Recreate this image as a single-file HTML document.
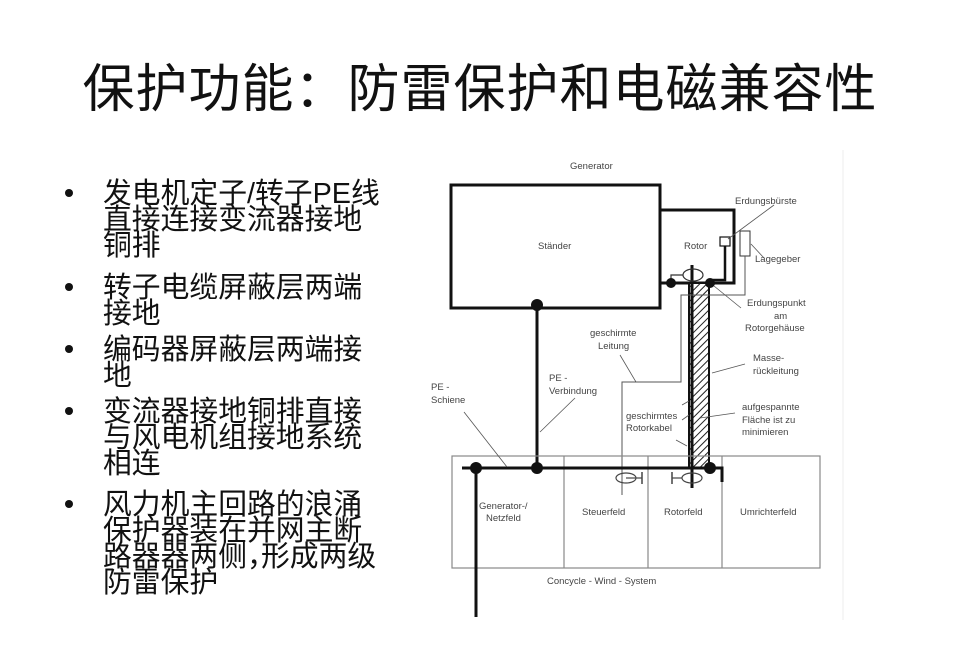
<!DOCTYPE html>
<html><head><meta charset="utf-8"><style>
body{margin:0;width:960px;height:668px;background:#fff;position:relative;overflow:hidden;font-family:"Liberation Sans","Noto Sans CJK SC",sans-serif;}
.t{position:absolute;left:0;top:58px;width:960px;text-align:center;font-size:52px;line-height:64px;color:#111;letter-spacing:1px;}
.b{position:absolute;left:103px;font-size:28.8px;line-height:26px;color:#111;white-space:nowrap;}
.d{position:absolute;left:65px;width:8px;height:8px;border-radius:50%;background:#111;}
.c{display:inline-block;width:14px;overflow:hidden;vertical-align:top;}
svg{position:absolute;left:0;top:0}
svg text{font-family:"Liberation Sans",sans-serif;font-size:9.5px;fill:#444}
</style></head><body>
<div class="t">保护功能：防雷保护和电磁兼容性</div>
<div class="d" style="top:189px"></div>
<div class="b" style="top:181px">发电机定子/转子PE线<br>直接连接变流器接地<br>铜排</div>
<div class="d" style="top:283px"></div>
<div class="b" style="top:275px">转子电缆屏蔽层两端<br>接地</div>
<div class="d" style="top:345px"></div>
<div class="b" style="top:337px">编码器屏蔽层两端接<br>地</div>
<div class="d" style="top:407px"></div>
<div class="b" style="top:399px">变流器接地铜排直接<br>与风电机组接地系统<br>相连</div>
<div class="d" style="top:500px"></div>
<div class="b" style="top:492px">风力机主回路的浪涌<br>保护器装在并网主断<br>路器器两侧<span class="c">，</span>形成两级<br>防雷保护</div>
<svg width="960" height="668">
<defs><pattern id="h" width="5" height="5" patternUnits="userSpaceOnUse" patternTransform="rotate(45)"><rect width="5" height="5" fill="#fff"/><line x1="0" y1="0" x2="0" y2="5" stroke="#222" stroke-width="2"/></pattern></defs>
<line x1="843" y1="150" x2="843" y2="620" stroke="#eee"/>
<text x="570" y="169">Generator</text>
<rect x="451" y="185" width="209" height="123" fill="none" stroke="#111" stroke-width="3"/>
<text x="538" y="249">Ständer</text>
<polyline points="660,210 734,210 734,283 660,283" fill="none" stroke="#111" stroke-width="3"/>
<text x="684" y="249">Rotor</text>
<rect x="689" y="283" width="20" height="185" fill="url(#h)" stroke="#111" stroke-width="2"/>
<line x1="692" y1="265" x2="692" y2="488" stroke="#111" stroke-width="3"/>
<ellipse cx="693" cy="275" rx="10" ry="6" fill="none" stroke="#333" stroke-width="1.2"/>
<polyline points="671,283 671,275 683,275" fill="none" stroke="#333" stroke-width="1.2"/>
<circle cx="671" cy="283" r="5" fill="#111"/>
<circle cx="710" cy="283" r="5" fill="#111"/>
<rect x="720" y="237" width="10" height="9" fill="#fff" stroke="#111" stroke-width="1.2"/>
<polyline points="725,246 725,280 712,280" fill="none" stroke="#111" stroke-width="2.5"/>
<rect x="740" y="231" width="10" height="25" fill="#fff" stroke="#333" stroke-width="1"/>
<polyline points="745,256 745,295 681,295 681,382 622,382 622,495" fill="none" stroke="#555" stroke-width="1"/>
<line x1="537" y1="305" x2="537" y2="468" stroke="#111" stroke-width="3"/>
<circle cx="537" cy="305" r="6" fill="#111"/>
<rect x="452" y="456" width="368" height="112" fill="none" stroke="#888" stroke-width="1.2"/>
<line x1="564" y1="456" x2="564" y2="568" stroke="#888" stroke-width="1.2"/>
<line x1="648" y1="456" x2="648" y2="568" stroke="#888" stroke-width="1.2"/>
<line x1="722" y1="456" x2="722" y2="568" stroke="#888" stroke-width="1.2"/>
<polyline points="462,468 722,468 722,482" fill="none" stroke="#111" stroke-width="3"/>
<line x1="476" y1="468" x2="476" y2="617" stroke="#111" stroke-width="3"/>
<circle cx="476" cy="468" r="6" fill="#111"/>
<circle cx="537" cy="468" r="6" fill="#111"/>
<circle cx="710" cy="468" r="6" fill="#111"/>
<ellipse cx="626" cy="478" rx="10" ry="5" fill="none" stroke="#444" stroke-width="1.2"/>
<line x1="626" y1="478" x2="642" y2="478" stroke="#444" stroke-width="1.2"/><line x1="642" y1="472" x2="642" y2="484" stroke="#444" stroke-width="1.5"/>
<ellipse cx="692" cy="478" rx="10" ry="5" fill="none" stroke="#444" stroke-width="1.2"/>
<line x1="672" y1="478" x2="682" y2="478" stroke="#444" stroke-width="1.2"/><line x1="672" y1="472" x2="672" y2="484" stroke="#444" stroke-width="1.5"/>
<g stroke="#555" stroke-width="0.8" fill="none">
<line x1="774" y1="205" x2="728" y2="239"/>
<line x1="764" y1="258" x2="751" y2="244"/>
<line x1="741" y1="308" x2="714" y2="286"/>
<line x1="620" y1="355" x2="636" y2="382"/>
<line x1="745" y1="364" x2="712" y2="373"/>
<line x1="575" y1="398" x2="540" y2="432"/>
<line x1="464" y1="412" x2="507" y2="467"/>
<line x1="735" y1="413" x2="700" y2="418"/>
<line x1="676" y1="440" x2="687" y2="446"/>
<line x1="682" y1="405" x2="689" y2="401"/><line x1="682" y1="420" x2="689" y2="415"/>
</g>
<text x="735" y="204">Erdungsbürste</text>
<text x="755" y="262">Lagegeber</text>
<text x="747" y="306">Erdungspunkt</text>
<text x="774" y="319">am</text>
<text x="745" y="331">Rotorgehäuse</text>
<text x="590" y="336">geschirmte</text>
<text x="598" y="349">Leitung</text>
<text x="753" y="361">Masse-</text>
<text x="753" y="374">rückleitung</text>
<text x="549" y="381">PE -</text>
<text x="549" y="394">Verbindung</text>
<text x="431" y="390">PE -</text>
<text x="431" y="403">Schiene</text>
<text x="742" y="410">aufgespannte</text>
<text x="742" y="423">Fläche ist zu</text>
<text x="742" y="435">minimieren</text>
<text x="626" y="419">geschirmtes</text>
<text x="626" y="431">Rotorkabel</text>
<text x="479" y="509">Generator-/</text>
<text x="486" y="521">Netzfeld</text>
<text x="582" y="515">Steuerfeld</text>
<text x="664" y="515">Rotorfeld</text>
<text x="740" y="515">Umrichterfeld</text>
<text x="547" y="584">Concycle - Wind - System</text>
</svg>
</body></html>
